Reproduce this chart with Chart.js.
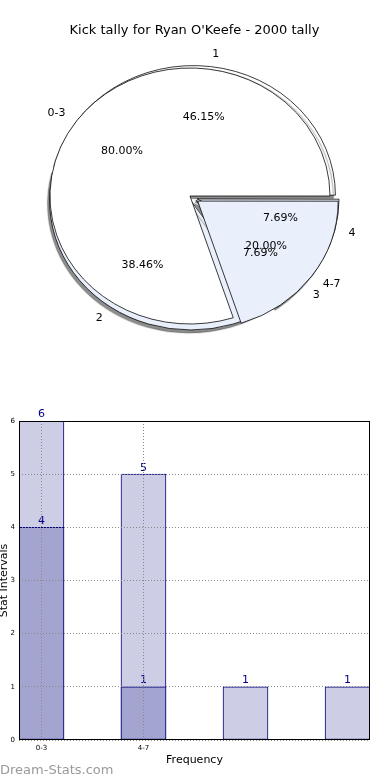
<!DOCTYPE html>
<html>
<head>
<meta charset="utf-8">
<script src="https://cdn.jsdelivr.net/npm/chart.js@4.4.1/dist/chart.umd.min.js"></script>
<style>
  body { margin: 0; background: #fff; width: 390px; height: 780px; position: relative; overflow: hidden; font-family: "DejaVu Sans", sans-serif; }
  .layer { position: absolute; left: 0; top: 0; width: 390px; height: 380px; }
  #title { position: absolute; left: 0; top: 22px; width: 389px; text-align: center; font-size: 13px; line-height: 16px; color: #000; }
  #barWrap { position: absolute; left: 0; top: 400px; width: 390px; height: 380px; }
  #mark { position: absolute; left: 0; top: 762px; font-size: 13px; line-height: 16px; color: #9a9a9a; }
</style>
</head>
<body>
<div class="layer"><canvas id="pieA"></canvas></div>
<div class="layer"><canvas id="pieB"></canvas></div>
<div id="title">Kick tally for Ryan O'Keefe - 2000 tally</div>
<div id="barWrap"><canvas id="barChart"></canvas></div>
<div id="mark">Dream-Stats.com</div>
<script>
// data
const tallyLabels = ['1', '2', '3', '4'];
const tallyValues = [6, 5, 1, 1];
const rangeLabels = ['0-3', '4-7'];
const rangeValues = [4, 1];
const barLabels = ['0-3', '4-7', '', ''];
const kickCounts = [6, 5, 1, 1];
const rangeCounts = [4, 1];

const FONT = '"DejaVu Sans", sans-serif';
const WHITE = '#ffffff';
const PALE = '#e9effb';
const SY = 128 / 140; // pie is a little squashed

// matplotlib goes counter-clockwise, chart.js clockwise -> reverse
const rev = a => a.slice().reverse();

// how far chart.js really moves an offset arc
function shiftOf(el) {
  const off = (el.options.offset || 0) / 4;
  const circ = el.endAngle - el.startAngle;
  const fix = 1 - Math.sin(Math.min(Math.PI, circ));
  return off * (1 + fix);
}

function drawPieLabels(ctx, chart) {
  const meta = chart.getDatasetMeta(0);
  const labels = chart.data.labels;
  const vals = chart.data.datasets[0].data;
  const total = vals.reduce((s, v) => s + v, 0);
  ctx.save();
  ctx.font = '11px ' + FONT;
  ctx.fillStyle = '#000';
  ctx.textBaseline = 'middle';
  meta.data.forEach((el, i) => {
    const mid = (el.startAngle + el.endAngle) / 2;
    const r = el.outerRadius;
    const s = shiftOf(el);
    const c = Math.cos(mid), n = Math.sin(mid);
    ctx.textAlign = c > 0 ? 'left' : 'right';
    ctx.fillText(labels[i], el.x + c * (s + 1.1 * r), el.y + n * (s + 1.1 * r) * SY);
    ctx.textAlign = 'center';
    ctx.fillText((vals[i] / total * 100).toFixed(2) + '%', el.x + c * (s + 0.6 * r), el.y + n * (s + 0.6 * r) * SY);
  });
  ctx.restore();
}

function piePlugin(shadow, labelCharts) {
  return {
    id: 'pieLook',
    beforeDatasetsDraw(chart) {
      const ctx = chart.ctx;
      const a = chart.getDatasetMeta(0).data[0];
      ctx.save();
      ctx.translate(a.x, a.y);
      ctx.scale(1, SY);
      ctx.translate(-a.x, -a.y);
      if (shadow) {
        ctx.shadowColor = 'rgba(0,0,0,0.45)';
        ctx.shadowOffsetX = -2;
        ctx.shadowOffsetY = 3;
        ctx.shadowBlur = 1;
      }
    },
    afterDatasetsDraw(chart) {
      chart.ctx.restore();
      labelCharts(chart).forEach(c => drawPieLabels(chart.ctx, c));
    }
  };
}

function pieOptions(pad) {
  return {
    responsive: true,
    maintainAspectRatio: false,
    animation: false,
    events: [],
    rotation: 90,
    radius: 140,
    layout: { padding: pad },
    plugins: { legend: { display: false }, tooltip: { enabled: false } }
  };
}

// Pie 1: tally by kick count (underneath)
const pieA = new Chart(document.getElementById('pieA'), {
  type: 'pie',
  data: {
    labels: rev(tallyLabels),
    datasets: [{
      data: rev(tallyValues),
      backgroundColor: rev([WHITE, PALE, WHITE, PALE]),
      borderColor: '#000',
      borderWidth: 0.8,
      offset: rev([11, 15, 16, 16])
    }]
  },
  options: pieOptions({ left: 0, right: 4, top: 20, bottom: 4 }),
  plugins: [piePlugin(true, () => [])]
});

// Pie 2: tally by range (on top, also writes all the labels)
new Chart(document.getElementById('pieB'), {
  type: 'pie',
  data: {
    labels: rev(rangeLabels),
    datasets: [{
      data: rev(rangeValues),
      backgroundColor: rev([WHITE, PALE]),
      borderColor: '#000',
      borderWidth: 0.8,
      offset: rev([0, 38])
    }]
  },
  options: pieOptions({ left: 0, right: 10, top: 16, bottom: 4 }),
  plugins: [piePlugin(false, chart => [pieA, chart])]
});

// Bar chart
const BAR_W = 0.44;
const valueLabels = {
  id: 'valueLabels',
  afterDatasetsDraw(chart) {
    const ctx = chart.ctx;
    ctx.save();
    ctx.font = '11px ' + FONT;
    ctx.fillStyle = '#00008b';
    ctx.textAlign = 'center';
    ctx.textBaseline = 'bottom';
    chart.data.datasets.forEach((ds, di) => {
      chart.getDatasetMeta(di).data.forEach((el, i) => {
        ctx.fillText(String(ds.data[i].y), el.x, el.y - 1);
      });
    });
    ctx.restore();
  }
};
const frame = {
  id: 'frame',
  afterDraw(chart) {
    const a = chart.chartArea;
    const ctx = chart.ctx;
    ctx.save();
    ctx.strokeStyle = '#000';
    ctx.lineWidth = 1;
    ctx.strokeRect(a.left + 0.5, a.top + 0.5, a.right - a.left - 1, a.bottom - a.top - 1);
    ctx.restore();
  }
};

new Chart(document.getElementById('barChart'), {
  type: 'bar',
  data: {
    datasets: [{
      label: 'tally',
      data: kickCounts.map((v, i) => ({ x: i + BAR_W / 2, y: v })),
      backgroundColor: '#cdcde5',
      borderColor: '#000080',
      borderWidth: 1,
      borderSkipped: false,
      barThickness: 45,
      grouped: false,
      order: 2
    }, {
      label: 'ranges',
      data: rangeCounts.map((v, i) => ({ x: i + BAR_W / 2, y: v })),
      backgroundColor: '#a3a4d0',
      borderColor: '#000080',
      borderWidth: 1,
      borderSkipped: false,
      barThickness: 45,
      grouped: false,
      order: 1
    }]
  },
  options: {
    responsive: true,
    maintainAspectRatio: false,
    animation: false,
    events: [],
    layout: { padding: { left: 0, right: 20, top: 21, bottom: 0 } },
    plugins: { legend: { display: false }, tooltip: { enabled: false } },
    scales: {
      x: {
        type: 'linear',
        offset: false,
        min: 0,
        max: 3 + BAR_W,
        afterBuildTicks: s => { s.ticks = barLabels.filter(l => l).map((l, i) => ({ value: i + BAR_W / 2 })); },
        afterFit: s => { s.height = 40; },
        ticks: {
          callback: (v, i) => barLabels[i],
          font: { family: FONT, size: 7 },
          color: '#000',
          padding: 4,
          maxRotation: 0,
          z: 1
        },
        grid: { color: '#888', drawTicks: false, offset: false, z: 1 },
        border: { display: false, dash: [1, 2] },
        title: {
          display: true,
          text: 'Frequency',
          color: '#000',
          font: { family: FONT, size: 11 },
          padding: { top: 0, bottom: 13.4 }
        }
      },
      y: {
        min: 0,
        max: 6,
        afterFit: s => { s.width = 19; },
        ticks: {
          stepSize: 1,
          font: { family: FONT, size: 7 },
          color: '#000',
          padding: 4,
          z: 1
        },
        grid: { color: '#888', drawTicks: false, z: 1 },
        border: { display: false, dash: [1, 2] },
        title: {
          display: true,
          text: 'Stat Intervals',
          color: '#000',
          font: { family: FONT, size: 11 },
          padding: { top: -2, bottom: 0 }
        }
      }
    }
  },
  plugins: [valueLabels, frame]
});
</script>
</body>
</html>
